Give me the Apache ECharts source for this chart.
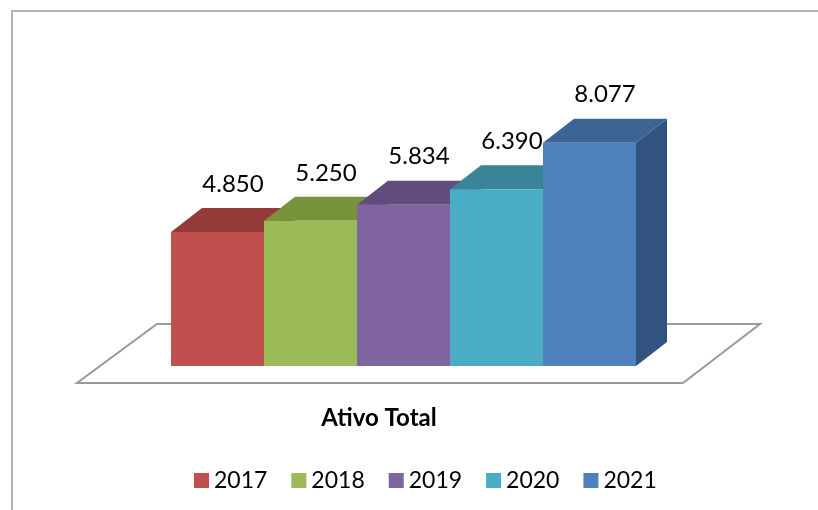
<!DOCTYPE html>
<html>
<head>
<meta charset="utf-8">
<script src="https://cdn.jsdelivr.net/npm/echarts@6/dist/echarts.min.js"></script>
<style>
html,body{margin:0;padding:0;background:#fff;}
#chart{width:818px;height:510px;}
</style>
</head>
<body>
<div id="chart"></div>
<script>
var years = ['2017', '2018', '2019', '2020', '2021'];
var values = [4850, 5250, 5834, 6390, 8077];
var frontColors = ['#C0504D', '#9BBB59', '#8064A2', '#4BACC6', '#4F81BD'];
var topColors = ['#943B3A', '#77933C', '#624B7D', '#3A8497', '#3C6494'];
var sideColors = ['#7F2F2D', '#617A30', '#4F3C66', '#2F6C7D', '#325380'];
var categoryTitle = 'Ativo Total';

var DX = 31, DY = -24;

function fmt(v) {
  return String(v).replace(/\B(?=(\d{3})+(?!\d))/g, '.');
}

var chart = echarts.init(document.getElementById('chart'));

var series = [];
// floor plate
series.push({
  type: 'custom',
  name: '_floor',
  silent: true,
  z: 1,
  data: [[0, 0]],
  renderItem: function (params, api) {
    var l = api.coord([0, 0]);
    var r = api.coord([years.length - 1, 0]);
    var w = api.size([1, 0])[0];
    var xl = l[0] - w / 2, xr = r[0] + w / 2, y0 = l[1];
    return {
      type: 'polygon',
      shape: { points: [[xl - 94, y0 + 17], [xr + 47, y0 + 17], [xr + 124, y0 - 42], [xl - 14, y0 - 42]] },
      style: { fill: '#fff', stroke: '#9a9a9a', lineWidth: 2 }
    };
  }
});

years.forEach(function (yr, i) {
  series.push({
    type: 'custom',
    name: yr,
    z: 2 + i,
    itemStyle: { color: frontColors[i] },
    data: [[i, values[i]]],
    encode: { x: 0, y: 1 },
    renderItem: function (params, api) {
      var idx = api.value(0);
      var v = api.value(1);
      var base = api.coord([idx, 0]);
      var top = api.coord([idx, v]);
      var w = api.size([1, 0])[0];
      var x0 = base[0] - w / 2, x1 = base[0] + w / 2;
      var yb = base[1], yt = top[1];
      return {
        type: 'group',
        children: [
          { type: 'polygon', shape: { points: [[x1, yt], [x1 + DX, yt + DY], [x1 + DX, yb + DY], [x1, yb]] }, style: { fill: sideColors[i] } },
          { type: 'polygon', shape: { points: [[x0, yt], [x0 + DX, yt + DY], [x1 + DX, yt + DY], [x1, yt]] }, style: { fill: topColors[i] } },
          { type: 'rect', shape: { x: x0, y: yt, width: w, height: yb - yt }, style: { fill: frontColors[i] } },
          { type: 'text', x: base[0] + DX / 2, y: yt + DY - 24, style: { text: fmt(v), fill: '#000', font: '24px Lato', align: 'center', verticalAlign: 'middle' } }
        ]
      };
    }
  });
});

chart.setOption({
  animation: false,
  grid: { left: 171, right: 182, top: 89.5, bottom: 144 },
  xAxis: { type: 'category', data: years, show: false },
  yAxis: { type: 'value', min: 0, max: 10000, show: false },
  legend: {
    data: years,
    left: 194, top: 469, padding: 0,
    icon: 'rect', itemWidth: 15, itemHeight: 15, itemGap: 24,
    textStyle: { fontFamily: 'Lato', fontSize: 23, color: '#000' }
  },
  graphic: [
    { type: 'rect', shape: { x: 12, y: 11, width: 820, height: 520 }, style: { fill: 'none', stroke: '#999', lineWidth: 1.5 }, z: 0 },
    { type: 'text', x: 379, y: 418, style: { text: categoryTitle, font: 'bold 24px Lato', fill: '#000', align: 'center', verticalAlign: 'middle' } }
  ],
  series: series
});
</script>
</body>
</html>
